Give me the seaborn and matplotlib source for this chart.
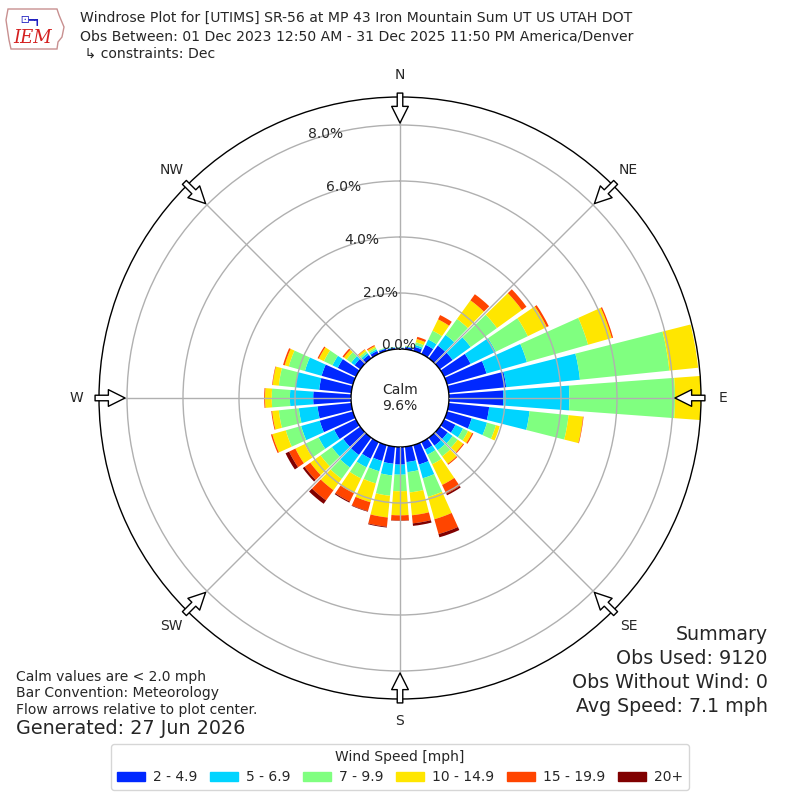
import numpy as np
import matplotlib
matplotlib.use('Agg')
import matplotlib.pyplot as plt
import seaborn as sns
from matplotlib.patches import Patch, Polygon

# Wind direction bins (deg, direction wind blows from)
directions = list(range(0, 360, 10))
speed_labels = ['2 - 4.9', '5 - 6.9', '7 - 9.9', '10 - 14.9', '15 - 19.9', '20+']

# percent of observations per 10 deg bin for each speed class
spd_2_5 = [0.04, 0.08, 0.15, 0.36, 0.56, 0.57, 1.05, 1.46, 2.06, 1.94, 1.45, 0.91,
           0.45, 0.35, 0.35, 0.30, 0.72, 0.55, 0.63, 0.61, 0.59, 0.66, 0.76, 0.75,
           0.86, 1.23, 1.21, 1.35, 1.15, 1.16, 0.72, 0.25, 0.15, 0.12, 0.08, 0.05]
spd_5_7 = [0.01, 0.02, 0.07, 0.21, 0.47, 0.79, 1.00, 1.50, 2.65, 2.36, 1.45, 0.57,
           0.30, 0.22, 0.20, 0.20, 0.51, 0.36, 0.36, 0.42, 0.38, 0.34, 0.55, 0.50,
           0.62, 0.69, 0.67, 0.83, 0.85, 0.62, 0.21, 0.15, 0.08, 0.06, 0.02, 0.02]
spd_7_10 = [0.01, 0.02, 0.10, 0.35, 0.70, 1.16, 1.27, 2.27, 3.21, 3.77, 1.40, 0.33,
            0.20, 0.22, 0.27, 0.38, 0.69, 0.73, 0.59, 0.73, 0.45, 0.44, 0.50, 0.50,
            0.55, 0.57, 0.72, 0.65, 0.60, 0.60, 0.34, 0.20, 0.08, 0.07, 0.02, 0.01]
spd_10_15 = [0.00, 0.01, 0.12, 0.45, 0.82, 1.10, 0.75, 0.88, 1.03, 0.95, 0.52, 0.14,
             0.16, 0.24, 0.33, 0.82, 0.83, 0.82, 0.86, 0.78, 0.70, 0.59, 0.50, 0.45,
             0.37, 0.50, 0.24, 0.24, 0.22, 0.15, 0.20, 0.12, 0.07, 0.06, 0.00, 0.00]
spd_15_20 = [0.00, 0.00, 0.08, 0.17, 0.27, 0.20, 0.08, 0.05, 0.00, 0.00, 0.02, 0.00,
             0.05, 0.04, 0.04, 0.35, 0.55, 0.29, 0.19, 0.33, 0.33, 0.33, 0.45, 0.25,
             0.25, 0.05, 0.03, 0.03, 0.02, 0.06, 0.05, 0.06, 0.02, 0.04, 0.00, 0.00]
spd_20p = [0.00, 0.00, 0.00, 0.00, 0.00, 0.00, 0.00, 0.00, 0.00, 0.00, 0.00, 0.00,
           0.00, 0.00, 0.00, 0.06, 0.12, 0.09, 0.01, 0.03, 0.02, 0.04, 0.15, 0.08,
           0.14, 0.00, 0.00, 0.00, 0.00, 0.00, 0.00, 0.00, 0.00, 0.00, 0.00, 0.00]
calm_pct = 9.6
r_ticks = [0, 2, 4, 6, 8]
compass = ['N', 'NE', 'E', 'SE', 'S', 'SW', 'W', 'NW']

sns.set_style('white')
plt.rcParams['font.family'] = ['DejaVu Sans']
colors = sns.color_palette(['#0028ff', '#00d4ff', '#80ff80', '#ffe600', '#ff4500', '#800000'])

fig = plt.figure(figsize=(8, 8), dpi=100)
ax = fig.add_axes([99 / 800, 101 / 800, 602 / 800, 602 / 800], projection='polar')
ax.set_theta_zero_location('N')
ax.set_theta_direction(-1)

# stacked bars
theta = np.radians(directions)
bottom = np.zeros(len(directions))
for vals, col, lab in zip([spd_2_5, spd_5_7, spd_7_10, spd_10_15, spd_15_20, spd_20p],
                          colors, speed_labels):
    ax.bar(theta, vals, width=np.radians(8.4), bottom=bottom, color=col,
           linewidth=0, label=lab, zorder=1)
    bottom = bottom + np.array(vals)

ax.set_rorigin(-1.75)
ax.set_rlim(0, 9.0)
ax.set_yticks([2, 4, 6, 8])
ax.set_yticklabels([])
ax.set_xticks(np.radians(range(0, 360, 45)))
ax.set_xticklabels([])
ax.grid(True, color='#b0b0b0', lw=1)
ax.set_axisbelow(False)
for sp in ax.spines.values():
    sp.set_color('black')
    sp.set_linewidth(1)

# radial labels
for v in r_ticks:
    ax.text(np.radians(-19.3), v + 0.24, f'{v:.1f}%', ha='left', va='center', fontsize=10)

# compass labels + flow arrows
for i, lab in enumerate(compass):
    a = np.radians(i * 45)
    ax.text(a, 9.79, lab, ha='center', va='center', fontsize=10, clip_on=False)
    ax.annotate('', xy=(a, 8.07), xytext=(a, 9.14), annotation_clip=False, zorder=6,
                arrowprops=dict(arrowstyle='simple,head_length=1.2,head_width=1.2,tail_width=0.4',
                                fc='white', ec='black', lw=1, shrinkA=0, shrinkB=0,
                                mutation_scale=10))

ax.text(0.5, 0.5, f'Calm\n{calm_pct}%', transform=ax.transAxes, ha='center', va='center',
        fontsize=10, linespacing=1.2)

# header
fig.text(80 / 800, 1 - 18 / 800, 'Windrose Plot for [UTIMS] SR-56 at MP 43 Iron Mountain Sum UT US UTAH DOT',
         fontsize=10.1, va='center')
fig.text(80 / 800, 1 - 37 / 800, 'Obs Between: 01 Dec 2023 12:50 AM - 31 Dec 2025 11:50 PM America/Denver',
         fontsize=10.1, va='center')
fig.text(80 / 800, 1 - 54 / 800, ' \u21b3 constraints: Dec', fontsize=10.1, va='center')

# logo
iowa = [(8, 9), (57, 9), (59, 15), (64, 27), (62, 37), (58, 42), (57, 49), (11, 49), (9, 40), (6, 20)]
fig.add_artist(Polygon([(x / 800, 1 - y / 800) for x, y in iowa], closed=True, fill=False,
                       ec='#c89090', lw=1, transform=fig.transFigure))
fig.text(33 / 800, 1 - 38 / 800, 'IEM', color='#d42020', fontsize=13, style='italic',
         family='DejaVu Serif', ha='center', va='center')
fig.text(30 / 800, 1 - 20 / 800, '\u2680\u2501\u2513', color='#2020c0', fontsize=7,
         ha='center', va='center')

# summary
summary = ['Summary', 'Obs Used: 9120', 'Obs Without Wind: 0', 'Avg Speed: 7.1 mph']
for s, y in zip(summary, [635, 659, 683, 706]):
    fig.text(768 / 800, 1 - y / 800, s, ha='right', va='center', fontsize=13.7)

notes = ['Calm values are < 2.0 mph', 'Bar Convention: Meteorology',
         'Flow arrows relative to plot center.']
for s, y in zip(notes, [677, 693, 710]):
    fig.text(16 / 800, 1 - y / 800, s, ha='left', va='center', fontsize=10)
fig.text(16 / 800, 1 - 729 / 800, 'Generated: 27 Jun 2026', ha='left', va='center', fontsize=13.8)

handles = [Patch(color=c, label=l) for c, l in zip(colors, speed_labels)]
fig.legend(handles=handles, ncol=6, title='Wind Speed [mph]', loc='lower center',
           bbox_to_anchor=(0.5, 10 / 800), borderaxespad=0, fontsize=10, title_fontsize=10,
           frameon=True, edgecolor='0.8', handleheight=0.7, columnspacing=0.9,
           handletextpad=0.6)

fig.savefig('out.png', dpi=100)
